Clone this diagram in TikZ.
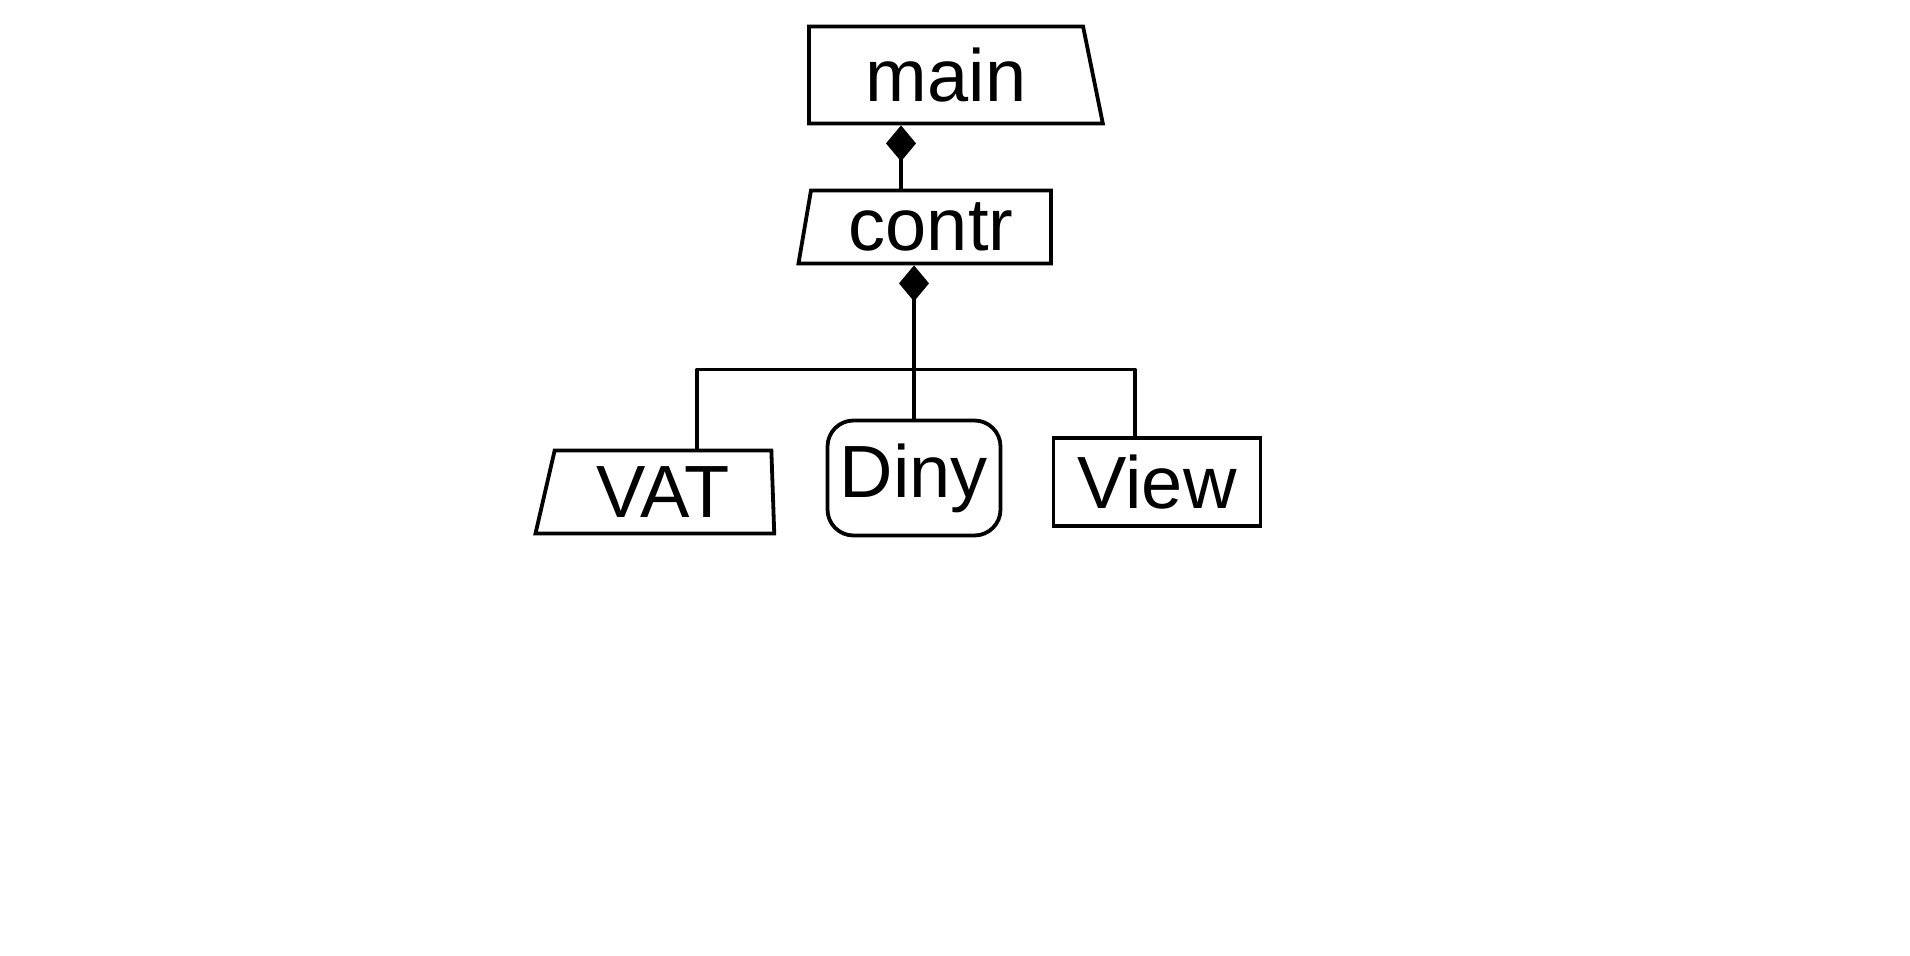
\documentclass[tikz,border=0pt]{standalone}
\usepackage{fontspec}
\setmainfont{Liberation Sans}
\usetikzlibrary{shapes.geometric,arrows.meta}
\begin{document}
\begin{tikzpicture}[x=1pt,y=-1pt,
  every node/.style={font=\fontsize{74}{78}\selectfont, line width=3.8pt, inner sep=0pt},
  boxA/.style={draw, shape=trapezium, trapezium stretches=true},
  boxR/.style={draw, rectangle},
  link/.style={line width=3.8pt, line join=round},
  comp/.style={link, -{Diamond[fill=black, length=36pt, width=30pt]}}
]
\useasboundingbox[fill=white] (0,0) rectangle (1910,955);
\node[boxA, trapezium left angle=90, trapezium right angle=78,
      minimum width=294pt, minimum height=97pt] (main) at (946,75) {main};
\node[boxA, trapezium left angle=80, trapezium right angle=90,
      minimum width=253pt, minimum height=73pt] (contr) at (931,227) {contr};
\node[boxA, trapezium left angle=77, trapezium right angle=88,
      minimum width=239pt, minimum height=83pt] (vat) at (663,492) {VAT};
\node[boxR, rounded corners=26pt, minimum width=173pt, minimum height=115pt] (diny) at (914,478) {Diny};
\node[boxR, minimum width=207pt, minimum height=88pt] (view) at (1157,482) {View};
% composition main <- contr
\draw[comp] ([xshift=-30pt]contr.north) -- ([xshift=-30pt]contr.north |- main.south);
% composition contr <- Diny
\draw[comp] (diny.north) -- (diny.north |- contr.south);
% VAT and View branch bar
\draw[link] ([xshift=34pt]vat.north) -- ++(0,-79) -| ([xshift=-22pt]view.north);
\end{tikzpicture}
\end{document}
